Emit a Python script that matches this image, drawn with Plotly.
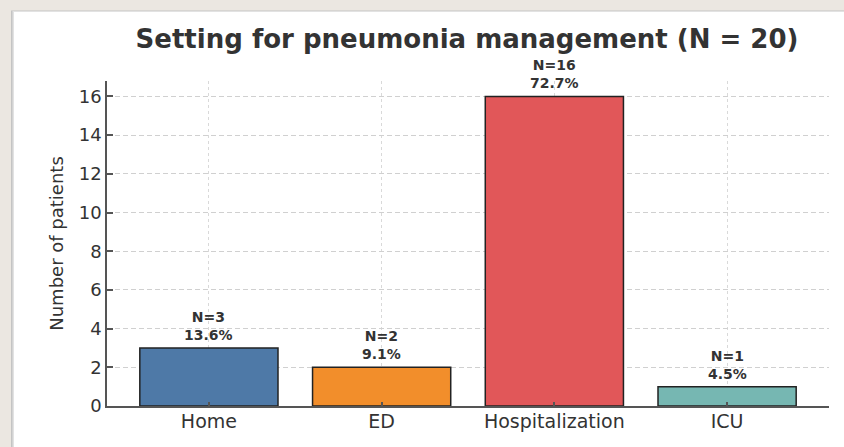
import plotly.graph_objects as go

categories = ["Home", "ED", "Hospitalization", "ICU"]
counts = [3, 2, 16, 1]
percent_labels = ["13.6%", "9.1%", "72.7%", "4.5%"]
bar_colors = ["#4e79a7", "#f28e2b", "#e15759", "#76b7b2"]
y_ticks = [0, 2, 4, 6, 8, 10, 12, 14, 16]
title_text = "Setting for pneumonia management (N = 20)"
y_title = "Number of patients"

W, H = 844, 447
ML, MR, MT, MB = 107, 15, 81, 41
PW, PH = W - ML - MR, H - MT - MB
BG = "#ebe7e1"

def px_x(px):
    return (px - ML) / PW

def px_y(py):
    return (H - MB - py) / PH

TXT = "#333333"
FONT = "DejaVu Sans"

fig = go.Figure()
fig.add_trace(go.Bar(
    x=categories, y=counts, width=0.8,
    marker=dict(color=bar_colors, line=dict(color="#222222", width=1.5)),
    hoverinfo="skip",
))

annotations = []
for c, n, p in zip(categories, counts, percent_labels):
    annotations.append(dict(
        x=c, y=n, xref="x", yref="y", text=f"<b>N={n}<br>{p}</b>",
        showarrow=False, yanchor="bottom", yshift=4, borderpad=0,
        font=dict(family=FONT, size=14, color=TXT),
    ))

shapes = [
    dict(type="rect", xref="paper", yref="paper", layer="below",
         x0=px_x(11), x1=px_x(900), y0=px_y(500), y1=px_y(10.5),
         fillcolor="#c4c4c4", line=dict(width=0)),
    dict(type="rect", xref="paper", yref="paper", layer="below",
         x0=px_x(12.5), x1=px_x(900), y0=px_y(500), y1=px_y(11),
         fillcolor="#e2e2e2", line=dict(width=0)),
    dict(type="rect", xref="paper", yref="paper", layer="below",
         x0=px_x(14), x1=px_x(900), y0=px_y(500), y1=px_y(12),
         fillcolor="#ffffff", line=dict(width=0)),
]

fig.update_layout(
    width=W, height=H,
    margin=dict(l=ML, r=MR, t=MT, b=MB, pad=0, autoexpand=False),
    paper_bgcolor=BG,
    plot_bgcolor="rgba(0,0,0,0)",
    font=dict(family=FONT, color=TXT),
    showlegend=False,
    title=dict(text=f"<b>{title_text}</b>", x=467 / W,
               xanchor="center", y=1 - 39 / H, yanchor="middle",
               yref="container", xref="container", automargin=False,
               font=dict(family=FONT, size=26, color=TXT)),
    annotations=annotations,
    shapes=shapes,
    bargap=0.2,
)

fig.update_xaxes(
    range=[-0.59, 3.59], showline=True, linecolor="#555555", linewidth=1.6,
    showgrid=True, gridcolor="#d9d9d9", griddash="3px,3px", gridwidth=1,
    ticks="inside", ticklen=4, tickcolor="#555555", tickwidth=1.5,
    tickfont=dict(family=FONT, size=19, color=TXT), zeroline=False,
    layer="above traces", automargin=False, ticklabelstandoff=-3,
)
fig.update_yaxes(
    range=[0, 16.8], tickvals=y_ticks, showline=True, linecolor="#555555",
    linewidth=1.6, showgrid=True, gridcolor="#d0d0d0", griddash="5px,3px",
    gridwidth=1, ticks="inside", ticklen=6, tickcolor="#555555", tickwidth=1.5,
    tickfont=dict(family=FONT, size=18, color=TXT), zeroline=False,
    title=dict(text=y_title, font=dict(family=FONT, size=18, color=TXT), standoff=10),
    layer="above traces", automargin=False,
)

fig.write_html(
    "out.html",
    config={"displayModeBar": False},
    post_script=(
        "document.body.style.margin='0';"
        "document.body.style.overflow='hidden';"
        f"document.body.style.background='{BG}';"
    ),
)
